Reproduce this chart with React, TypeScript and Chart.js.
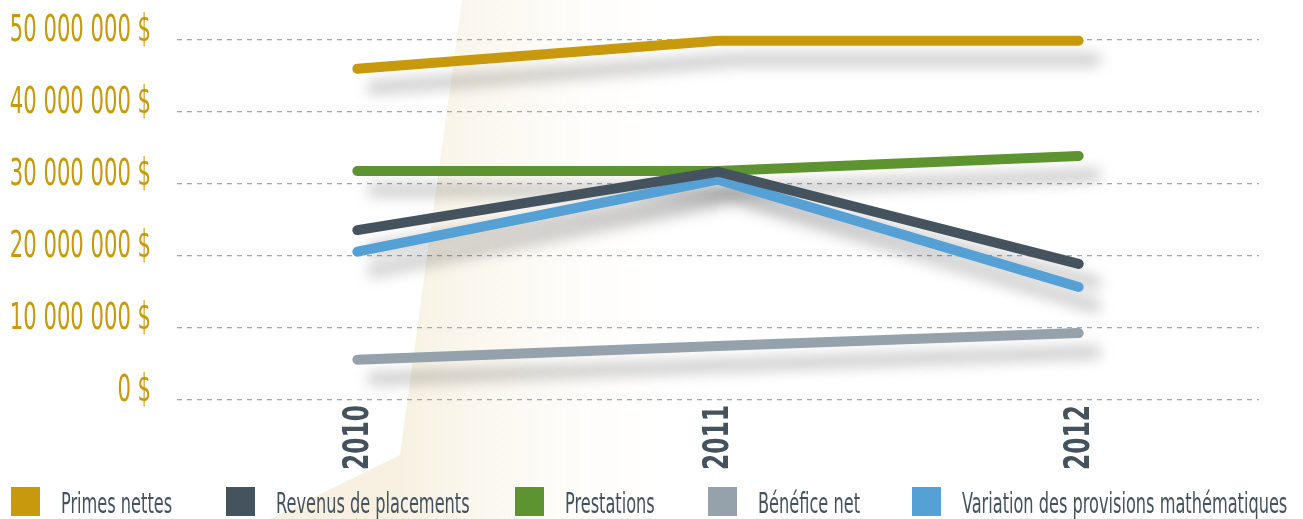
import React, { useEffect, useRef } from "react";
import { Chart, registerables } from "chart.js";

Chart.register(...registerables);

const years = ["2010", "2011", "2012"];
const seriesNames = [
  "Primes nettes",
  "Revenus de placements",
  "Prestations",
  "Bénéfice net",
  "Variation des provisions mathématiques",
];
const seriesColors = ["#c8990c", "#44535e", "#5e9430", "#95a1ab", "#55a0d4"];
const primesNettes = [46000000, 49900000, 49900000];
const revenusPlacements = [23600000, 31700000, 18900000];
const prestations = [31800000, 31800000, 33900000];
const beneficeNet = [5600000, 7500000, 9300000];
const variationProvisions = [20600000, 30600000, 15700000];
const seriesValues = [primesNettes, revenusPlacements, prestations, beneficeNet, variationProvisions];
const yTicks = [0, 10000000, 20000000, 30000000, 40000000, 50000000];
const legendLefts = [11, 226, 515, 708, 912];

const FONT = "'DejaVu Sans Condensed', 'DejaVu Sans', sans-serif";

function fmt(v: number) {
  return String(Math.round(v)).replace(/\B(?=(\d{3})+(?!\d))/g, " ") + " $";
}

const bgPlugin = {
  id: "bgBeam",
  beforeDraw(chart: any) {
    const { ctx, height } = chart;
    ctx.save();
    const g = ctx.createLinearGradient(395, 0, 720, 0);
    g.addColorStop(0, "rgba(246,238,220,0.85)");
    g.addColorStop(0.35, "rgba(249,244,232,0.55)");
    g.addColorStop(1, "rgba(255,255,255,0)");
    ctx.fillStyle = g;
    ctx.beginPath();
    ctx.moveTo(462, 0);
    ctx.lineTo(720, 0);
    ctx.lineTo(720, height);
    ctx.lineTo(270, height);
    ctx.lineTo(400, 455);
    ctx.closePath();
    ctx.fill();
    ctx.restore();
  },
};

const shadowPlugin = {
  id: "lineShadows",
  beforeDatasetsDraw(chart: any) {
    const { ctx } = chart;
    ctx.save();
    ctx.filter = "blur(7px)";
    ctx.strokeStyle = "rgba(0,0,0,0.2)";
    ctx.lineWidth = 13;
    ctx.lineCap = "round";
    ctx.lineJoin = "round";
    chart.data.datasets.forEach((_d: any, i: number) => {
      const meta = chart.getDatasetMeta(i);
      ctx.beginPath();
      meta.data.forEach((p: any, j: number) => {
        const x = p.x + 16;
        const y = p.y + 19;
        if (j === 0) ctx.moveTo(x, y);
        else ctx.lineTo(x, y);
      });
      ctx.stroke();
    });
    ctx.restore();
  },
};

const labelsPlugin = {
  id: "condensedLabels",
  afterDraw(chart: any) {
    const { ctx, scales } = chart;
    const ys = scales.y;
    const xs = scales.x;
    ctx.save();
    ctx.fillStyle = "#c8990c";
    ctx.font = `37px ${FONT}`;
    ctx.textAlign = "right";
    ctx.textBaseline = "alphabetic";
    ys.ticks.forEach((t: any) => {
      const y = ys.getPixelForValue(t.value);
      ctx.save();
      ctx.translate(ys.right - 26, y + 1);
      ctx.scale(0.635, 1);
      ctx.fillText(fmt(t.value), 0, 0);
      ctx.restore();
    });
    ctx.fillStyle = "#44525e";
    ctx.font = `bold 36px ${FONT}`;
    ctx.textAlign = "right";
    ctx.textBaseline = "middle";
    (chart.data.labels as string[]).forEach((lab, i) => {
      const x = xs.getPixelForValue(i);
      ctx.save();
      ctx.translate(x + 1, xs.top + 5);
      ctx.rotate(-Math.PI / 2);
      ctx.scale(0.72, 1);
      ctx.fillText(lab, 0, 0);
      ctx.restore();
    });
    ctx.restore();
  },
};

export default function App() {
  const ref = useRef<HTMLCanvasElement>(null);
  useEffect(() => {
    if (!ref.current) return;
    const chart = new Chart(ref.current, {
      type: "line",
      data: {
        labels: years,
        datasets: seriesNames.map((n, i) => ({
          label: n,
          data: seriesValues[i],
          borderColor: seriesColors[i],
          backgroundColor: seriesColors[i],
          borderWidth: 10,
          borderCapStyle: "round",
          borderJoinStyle: "miter",
          pointRadius: 0,
          tension: 0,
          clip: false,
        })),
      },
      options: {
        animation: false,
        responsive: false,
        layout: { padding: { top: 40, right: 44, left: 0, bottom: 0 } },
        plugins: { legend: { display: false }, tooltip: { enabled: false } },
        scales: {
          x: {
            offset: true,
            grid: { display: false },
            border: { display: false },
            ticks: { display: false },
            afterFit(axis: any) {
              axis.height = 119;
            },
          },
          y: {
            min: 0,
            max: 50000000,
            border: { display: false, dash: [5, 5] },
            grid: {
              color: "#9eaab5",
              lineWidth: 1.3,
              drawTicks: false,
            },
            afterBuildTicks(axis: any) {
              axis.ticks = yTicks.map((v) => ({ value: v }));
            },
            ticks: { display: false },
            afterFit(axis: any) {
              axis.width = 177;
            },
          },
        },
      },
      plugins: [bgPlugin, shadowPlugin, labelsPlugin],
    } as any);
    return () => chart.destroy();
  }, []);

  return (
    <div style={{ position: "absolute", left: 0, top: 0, width: 1303, height: 519, background: "#fff", overflow: "hidden" }}>
      <canvas ref={ref} width={1303} height={519} style={{ position: "absolute", left: 0, top: 0 }} />
      {seriesNames.map((n, i) => (
        <div key={n} style={{ position: "absolute", left: legendLefts[i], top: 487, height: 29, whiteSpace: "nowrap" }}>
          <div style={{ position: "absolute", left: 0, top: 0, width: 29, height: 29, background: seriesColors[i] }} />
          <span
            style={{
              position: "absolute",
              left: 50,
              top: -2,
              fontFamily: FONT,
              fontSize: 29,
              lineHeight: "36px",
              color: "#44525e",
              display: "inline-block",
              transform: "scaleX(0.62)",
              transformOrigin: "left center",
            }}
          >
            {n}
          </span>
        </div>
      ))}
    </div>
  );
}
